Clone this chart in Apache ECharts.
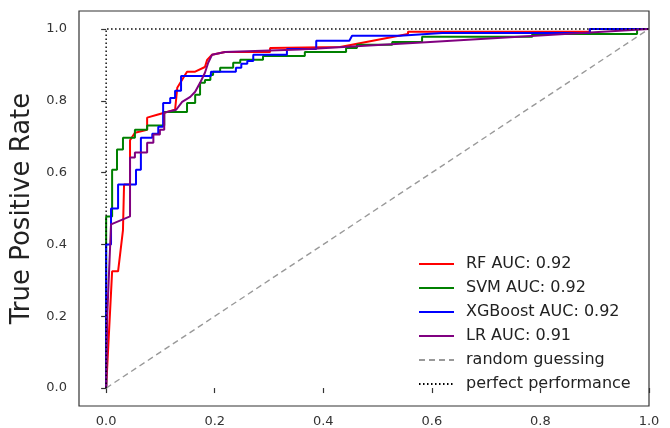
<!DOCTYPE html>
<html>
<head>
<meta charset="utf-8">
<script src="https://cdn.jsdelivr.net/npm/echarts@6/dist/echarts.min.js"></script>
<style>html,body{margin:0;padding:0;background:#fff;}#c{width:670px;height:428px;}</style>
</head>
<body>
<div id="c"></div>
<script>
// ---- data ----
const tickValues = [0, 0.2, 0.4, 0.6, 0.8, 1.0];

const rfFpr  = [0, 0.011, 0.022, 0.031, 0.033, 0.044, 0.044, 0.053, 0.0755, 0.0755, 0.094, 0.127, 0.131, 0.149, 0.164, 0.182, 0.186, 0.195, 0.219, 0.302, 0.302, 0.431, 0.556, 0.556, 0.891, 0.891, 1];
const rfTpr  = [0, 0.325, 0.325, 0.44, 0.567, 0.567, 0.69, 0.711, 0.719, 0.753, 0.761, 0.775, 0.836, 0.881, 0.881, 0.894, 0.914, 0.928, 0.936, 0.936, 0.947, 0.95, 0.986, 0.992, 0.992, 1, 1];

const svmFpr = [0, 0, 0.011, 0.011, 0.020, 0.020, 0.031, 0.031, 0.053, 0.053, 0.0755, 0.0755, 0.107, 0.107, 0.149, 0.149, 0.164, 0.164, 0.173, 0.173, 0.182, 0.182, 0.192, 0.192, 0.197, 0.197, 0.210, 0.210, 0.234, 0.234, 0.247, 0.247, 0.289, 0.289, 0.366, 0.366, 0.442, 0.442, 0.462, 0.462, 0.527, 0.527, 0.582, 0.582, 0.785, 0.785, 0.978, 0.978, 1];
const svmTpr = [0, 0.478, 0.478, 0.608, 0.608, 0.664, 0.664, 0.697, 0.697, 0.719, 0.719, 0.731, 0.731, 0.769, 0.769, 0.794, 0.794, 0.817, 0.817, 0.85, 0.85, 0.858, 0.858, 0.872, 0.872, 0.881, 0.881, 0.892, 0.892, 0.906, 0.906, 0.914, 0.914, 0.925, 0.925, 0.936, 0.936, 0.947, 0.947, 0.956, 0.956, 0.964, 0.964, 0.978, 0.978, 0.986, 0.986, 1, 1];

const xgbFpr = [0, 0, 0.009, 0.009, 0.022, 0.022, 0.055, 0.055, 0.064, 0.064, 0.085, 0.085, 0.096, 0.096, 0.105, 0.105, 0.118, 0.118, 0.127, 0.127, 0.138, 0.138, 0.193, 0.193, 0.239, 0.239, 0.249, 0.249, 0.260, 0.260, 0.271, 0.271, 0.333, 0.333, 0.387, 0.387, 0.448, 0.453, 0.541, 0.619, 0.891, 0.891, 1];
const xgbTpr = [0, 0.40, 0.40, 0.50, 0.50, 0.567, 0.567, 0.608, 0.608, 0.697, 0.697, 0.708, 0.708, 0.728, 0.728, 0.794, 0.794, 0.808, 0.808, 0.828, 0.828, 0.869, 0.869, 0.881, 0.881, 0.892, 0.892, 0.903, 0.903, 0.911, 0.911, 0.928, 0.928, 0.944, 0.944, 0.967, 0.967, 0.981, 0.981, 0.989, 0.989, 1, 1];

const lrFpr  = [0, 0.002, 0.009, 0.011, 0.044, 0.044, 0.053, 0.053, 0.0755, 0.0755, 0.087, 0.087, 0.099, 0.099, 0.107, 0.107, 0.129, 0.140, 0.155, 0.164, 0.173, 0.182, 0.188, 0.195, 0.219, 0.357, 0.597, 1];
const lrTpr  = [0, 0.2, 0.456, 0.456, 0.478, 0.642, 0.642, 0.656, 0.656, 0.683, 0.683, 0.706, 0.706, 0.719, 0.719, 0.767, 0.775, 0.797, 0.811, 0.825, 0.85, 0.878, 0.906, 0.928, 0.936, 0.943, 0.964, 1];

const randomFpr  = [0, 1];
const randomTpr  = [0, 1];
const perfectFpr = [0, 0, 1];
const perfectTpr = [0, 1, 1];

const names = ['RF AUC: 0.92', 'SVM AUC: 0.92', 'XGBoost AUC: 0.92', 'LR AUC: 0.91', 'random guessing', 'perfect performance'];

// ---- build ----
const zip = (xs, ys) => xs.map((x, i) => [x, ys[i]]);
const font = 'DejaVu Sans';

function curve(name, xs, ys, color, type, width, z) {
  return {
    name, type: 'line', data: zip(xs, ys), symbol: 'none', showSymbol: false,
    lineStyle: { color, width, type }, itemStyle: { color }, z, silent: true,
    animation: false
  };
}

const chart = echarts.init(document.getElementById('c'), null, { renderer: 'canvas' });
chart.setOption({
  animation: false,
  backgroundColor: '#fff',
  textStyle: { fontFamily: font },
  grid: { left: 79, top: 11, width: 570, height: 396, show: true, borderColor: '#333', borderWidth: 1.2, backgroundColor: 'transparent' },
  xAxis: {
    type: 'value', min: -0.05, max: 1.0,
    axisLine: { show: false },
    splitLine: { show: false },
    axisTick: { show: true, length: 5, customValues: tickValues, lineStyle: { color: '#333', width: 1.2 } },
    axisLabel: { customValues: tickValues, margin: 9, fontSize: 13, color: '#333', fontFamily: font, formatter: v => v.toFixed(1) }
  },
  yAxis: {
    type: 'value', min: -0.05, max: 1.05,
    name: 'True Positive Rate', nameLocation: 'middle', nameGap: 40,
    nameTextStyle: { fontSize: 26, color: '#222', fontFamily: font },
    axisLine: { show: false },
    splitLine: { show: false },
    axisTick: { show: true, length: 5, customValues: tickValues, lineStyle: { color: '#333', width: 1.2 } },
    axisLabel: { customValues: tickValues, margin: 12, fontSize: 13, color: '#333', fontFamily: font, formatter: v => v.toFixed(1) }
  },
  legend: {
    orient: 'vertical', left: 418, top: 256, padding: 0,
    itemWidth: 35, itemHeight: 16, itemGap: 8,
    itemStyle: { opacity: 0 },
    data: names,
    textStyle: { fontSize: 16, color: '#222', fontFamily: font, lineHeight: 16, padding: [0, 0, 0, 7] }
  },
  series: [
    curve(names[0], rfFpr, rfTpr, '#ff0000', 'solid', 2, 2),
    curve(names[1], svmFpr, svmTpr, '#008000', 'solid', 2, 3),
    curve(names[2], xgbFpr, xgbTpr, '#0000ff', 'solid', 2, 4),
    curve(names[3], lrFpr, lrTpr, '#800080', 'solid', 2, 5),
    curve(names[4], randomFpr, randomTpr, '#999999', [6, 4], 1.4, 6),
    curve(names[5], perfectFpr, perfectTpr, '#000000', [1.5, 2.5], 1.4, 7)
  ]
});
</script>
</body>
</html>
